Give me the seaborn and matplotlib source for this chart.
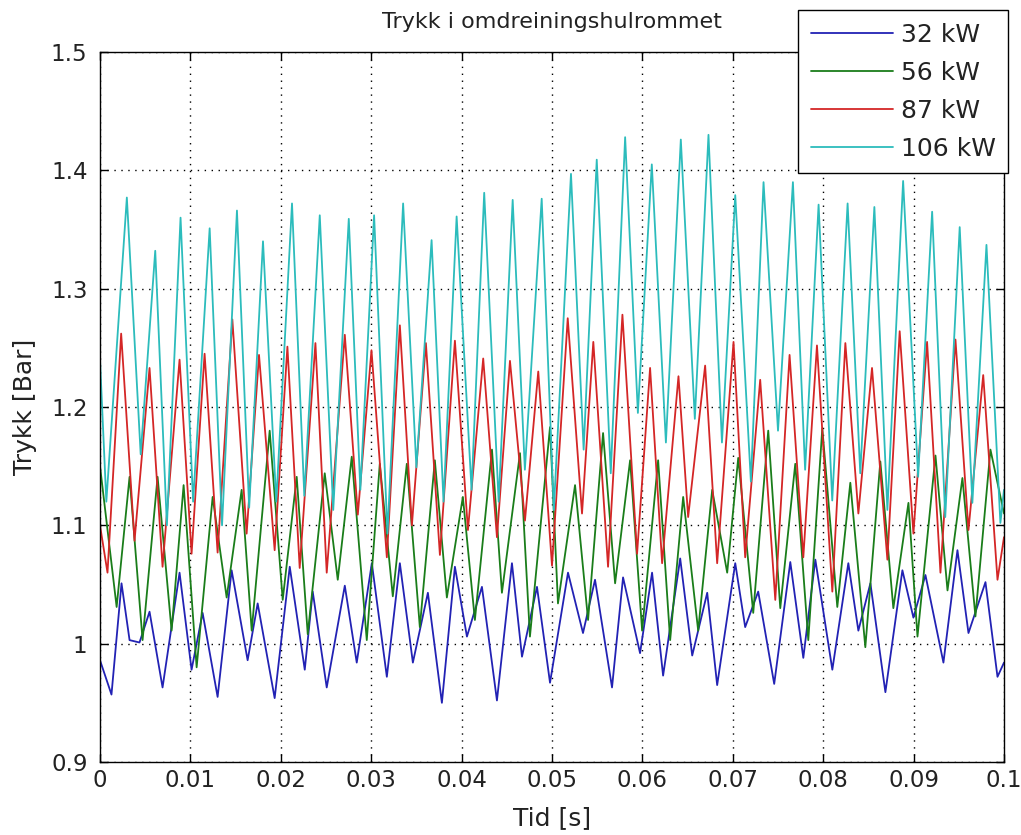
import matplotlib
matplotlib.use("Agg")
import matplotlib.pyplot as plt
from matplotlib.lines import Line2D
import numpy as np
import pandas as pd
import seaborn as sns

# Pressure in the rotor cavity, four load cases (turning points of each trace)
t_32 = [0.0, 0.00127, 0.00238, 0.00327, 0.00437, 0.00548, 0.00692, 0.00880, 0.01013, 0.01135,
        0.01301, 0.01456, 0.01633, 0.01744, 0.01932, 0.02099, 0.02265, 0.02353, 0.02508, 0.02708,
        0.02840, 0.03007, 0.03173, 0.03317, 0.03461, 0.03627, 0.03782, 0.03926, 0.04059, 0.04225,
        0.04391, 0.04557, 0.04668, 0.04834, 0.04978, 0.05177, 0.05343, 0.05476, 0.05664, 0.05786,
        0.05974, 0.06107, 0.06229, 0.06418, 0.06551, 0.06717, 0.06827, 0.07027, 0.07137, 0.07281,
        0.07458, 0.07636, 0.07780, 0.07913, 0.08101, 0.08278, 0.08389, 0.08522, 0.08688, 0.08876,
        0.08998, 0.09131, 0.09330, 0.09485, 0.09607, 0.09795, 0.09928, 0.1]
p_32 = [0.986, 0.957, 1.051, 1.003, 1.001, 1.027, 0.963, 1.060, 0.978, 1.026,
        0.955, 1.062, 0.986, 1.034, 0.954, 1.065, 0.978, 1.044, 0.963, 1.049,
        0.984, 1.068, 0.972, 1.068, 0.984, 1.043, 0.950, 1.065, 1.006, 1.048,
        0.952, 1.068, 0.989, 1.048, 0.967, 1.060, 1.009, 1.054, 0.963, 1.056,
        0.992, 1.060, 0.973, 1.072, 0.990, 1.043, 0.965, 1.068, 1.014, 1.044,
        0.966, 1.069, 0.988, 1.071, 0.978, 1.068, 1.011, 1.051, 0.959, 1.062,
        1.022, 1.058, 0.984, 1.079, 1.009, 1.052, 0.972, 0.984]

t_56 = [0.0, 0.00184, 0.00327, 0.00471, 0.00637, 0.00792, 0.00925, 0.01069, 0.01246, 0.01401,
        0.01567, 0.01678, 0.01877, 0.02021, 0.02176, 0.02298, 0.02486, 0.02630, 0.02785, 0.02951,
        0.03095, 0.03239, 0.03394, 0.03538, 0.03704, 0.03837, 0.04014, 0.04147, 0.04336, 0.04446,
        0.04646, 0.04756, 0.04978, 0.05066, 0.05255, 0.05399, 0.05565, 0.05698, 0.05864, 0.05997,
        0.06174, 0.06307, 0.06451, 0.06617, 0.06772, 0.06938, 0.07060, 0.07226, 0.07392, 0.07525,
        0.07691, 0.07835, 0.07990, 0.08156, 0.08300, 0.08466, 0.08632, 0.08776, 0.08943, 0.09043,
        0.09242, 0.09375, 0.09540, 0.09684, 0.09850, 0.1]
p_56 = [1.150, 1.031, 1.141, 1.003, 1.141, 1.011, 1.134, 0.980, 1.124, 1.039,
        1.130, 1.011, 1.180, 1.037, 1.141, 1.008, 1.144, 1.054, 1.158, 1.003,
        1.152, 1.040, 1.152, 1.014, 1.155, 1.039, 1.124, 1.020, 1.164, 1.043,
        1.161, 1.006, 1.183, 1.034, 1.134, 1.020, 1.178, 1.051, 1.155, 1.011,
        1.155, 1.003, 1.124, 1.011, 1.130, 1.060, 1.157, 1.026, 1.180, 1.030,
        1.152, 1.003, 1.182, 1.031, 1.136, 0.997, 1.154, 1.030, 1.119, 1.006,
        1.159, 1.045, 1.140, 1.023, 1.164, 1.110]

t_87 = [0.0, 0.00083, 0.00234, 0.00382, 0.00548, 0.00692, 0.00880, 0.01013, 0.01157, 0.01301,
        0.01464, 0.01622, 0.01759, 0.01932, 0.02073, 0.02209, 0.02383, 0.02508, 0.02708, 0.02852,
        0.03003, 0.03173, 0.03317, 0.03450, 0.03605, 0.03760, 0.03926, 0.04070, 0.04239, 0.04391,
        0.04535, 0.04701, 0.04848, 0.05000, 0.05174, 0.05332, 0.05457, 0.05620, 0.05779, 0.05941,
        0.06085, 0.06218, 0.06399, 0.06506, 0.06694, 0.06827, 0.07008, 0.07137, 0.07303, 0.07470,
        0.07628, 0.07780, 0.07931, 0.08101, 0.08245, 0.08389, 0.08540, 0.08710, 0.08846, 0.08998,
        0.09149, 0.09297, 0.09463, 0.09607, 0.09770, 0.09928, 0.1]
p_87 = [1.100, 1.060, 1.262, 1.087, 1.233, 1.065, 1.240, 1.076, 1.245, 1.077,
        1.274, 1.093, 1.244, 1.079, 1.251, 1.064, 1.254, 1.060, 1.261, 1.109,
        1.248, 1.073, 1.269, 1.100, 1.254, 1.075, 1.256, 1.096, 1.241, 1.090,
        1.239, 1.104, 1.230, 1.066, 1.275, 1.110, 1.255, 1.065, 1.278, 1.076,
        1.233, 1.068, 1.226, 1.107, 1.235, 1.068, 1.255, 1.073, 1.223, 1.037,
        1.244, 1.073, 1.252, 1.044, 1.254, 1.110, 1.233, 1.071, 1.264, 1.093,
        1.255, 1.060, 1.257, 1.096, 1.227, 1.054, 1.090]

t_106 = [0.0, 0.0007, 0.00297, 0.0045, 0.00611, 0.0074, 0.00891, 0.0103, 0.01213, 0.0135,
         0.01515, 0.0165, 0.01803, 0.0195, 0.02124, 0.0226, 0.02431, 0.0258, 0.02752, 0.0288,
         0.03032, 0.0318, 0.03353, 0.0350, 0.03668, 0.0380, 0.03945, 0.0411, 0.04250, 0.0441,
         0.04565, 0.0470, 0.04886, 0.0502, 0.05210, 0.0535, 0.05495, 0.0565, 0.05809, 0.0595,
         0.06104, 0.0626, 0.06425, 0.0658, 0.06731, 0.0688, 0.07027, 0.0720, 0.07340, 0.0750,
         0.07665, 0.0780, 0.07949, 0.0810, 0.08270, 0.0841, 0.08566, 0.0871, 0.08884, 0.0905,
         0.09205, 0.0935, 0.09510, 0.0965, 0.09806, 0.0996, 0.1]
p_106 = [1.240, 1.120, 1.377, 1.160, 1.332, 1.100, 1.360, 1.120, 1.351, 1.100,
         1.366, 1.115, 1.340, 1.120, 1.372, 1.125, 1.362, 1.113, 1.359, 1.130,
         1.362, 1.093, 1.372, 1.149, 1.341, 1.120, 1.361, 1.130, 1.381, 1.120,
         1.375, 1.147, 1.376, 1.113, 1.397, 1.164, 1.409, 1.144, 1.428, 1.195,
         1.405, 1.170, 1.426, 1.190, 1.430, 1.170, 1.379, 1.137, 1.390, 1.180,
         1.390, 1.147, 1.371, 1.121, 1.372, 1.144, 1.369, 1.113, 1.391, 1.141,
         1.365, 1.107, 1.352, 1.119, 1.337, 1.102, 1.130]

series = ["32 kW", "56 kW", "87 kW", "106 kW"]
colors = ["#2222b4", "#1a7d1a", "#d42626", "#2cbcbc"]

x_ticks = [0, 0.01, 0.02, 0.03, 0.04, 0.05, 0.06, 0.07, 0.08, 0.09, 0.1]
x_tick_labels = ["0", "0.01", "0.02", "0.03", "0.04", "0.05", "0.06", "0.07", "0.08", "0.09", "0.1"]
y_ticks = [0.9, 1.0, 1.1, 1.2, 1.3, 1.4, 1.5]
y_tick_labels = ["0.9", "1", "1.1", "1.2", "1.3", "1.4", "1.5"]

frames = []
for name, tt, pp in zip(series, [t_32, t_56, t_87, t_106], [p_32, p_56, p_87, p_106]):
    frames.append(pd.DataFrame({"Tid": tt, "Trykk": pp, "Effekt": name}))
df = pd.concat(frames, ignore_index=True)

sns.set_style("ticks")
plt.rcParams["font.family"] = ["DejaVu Sans"]

fig = plt.figure(figsize=(10.21, 8.35), dpi=100)
ax = fig.add_axes([100 / 1021, 1 - 762 / 835, 904 / 1021, 710 / 835])

sns.lineplot(data=df, x="Tid", y="Trykk", hue="Effekt", hue_order=series,
             palette=colors, estimator=None, sort=False, linewidth=1.3,
             ax=ax, legend=False)

ax.set_xlim(0, 0.1)
ax.set_ylim(0.9, 1.5)
ax.set_xticks(x_ticks)
ax.set_xticklabels(x_tick_labels)
ax.set_yticks(y_ticks)
ax.set_yticklabels(y_tick_labels)
ax.grid(True, linestyle=(0, (1, 4)), color="black", linewidth=1.0)
ax.tick_params(direction="in", top=True, right=True, length=6, width=1,
               labelsize=16.5, colors="black", labelcolor="#222222")
ax.tick_params(axis="y", pad=9)
ax.tick_params(axis="x", pad=5)
for sp in ax.spines.values():
    sp.set_visible(True)
    sp.set_color("black")
    sp.set_linewidth(1.0)

ax.set_xlabel("Tid [s]", fontsize=18, labelpad=10, color="#222222")
ax.set_ylabel("Trykk [Bar]", fontsize=18, labelpad=10, color="#222222")
ax.set_title("Trykk i omdreiningshulrommet", fontsize=16, pad=17, color="#222222")

handles = [Line2D([0], [0], color=c, linewidth=1.3) for c in colors]
leg = fig.legend(handles, series, loc="upper right",
                 bbox_to_anchor=(1008 / 1021, 1 - 10 / 835),
                 fontsize=18, frameon=True, fancybox=False, framealpha=1,
                 edgecolor="black", handlelength=3.3, handletextpad=0.3,
                 labelspacing=0.56, borderpad=0.5, borderaxespad=0)
leg.get_frame().set_linewidth(1.0)
for txt in leg.get_texts():
    txt.set_color("#222222")

fig.savefig("out.png", dpi=100, facecolor="white")
